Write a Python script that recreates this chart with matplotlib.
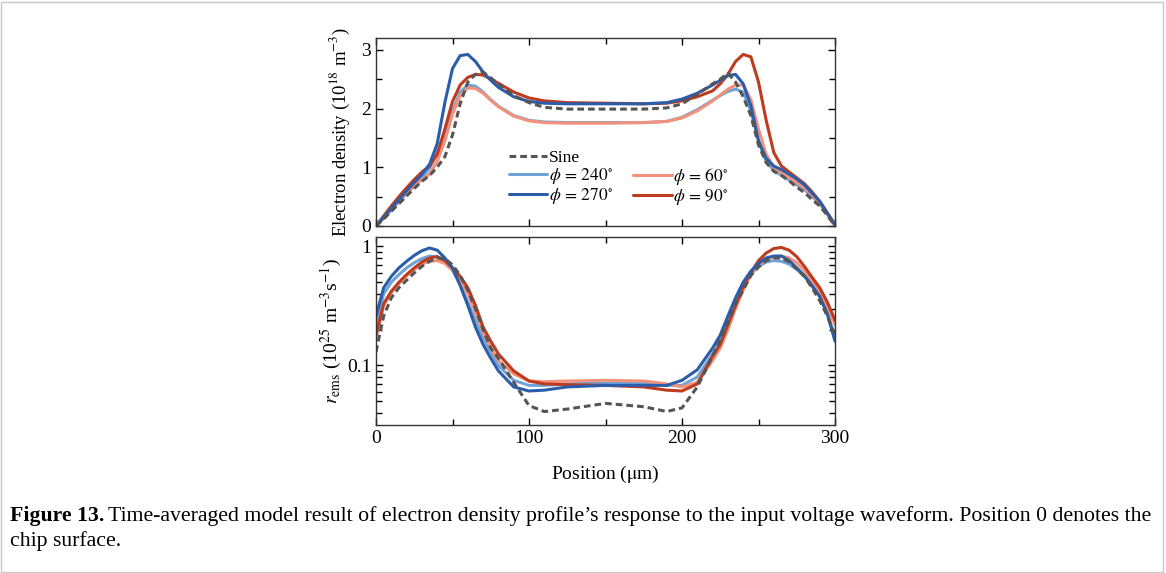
import numpy as np
import matplotlib.pyplot as plt
from matplotlib.patches import Rectangle
from matplotlib.ticker import MultipleLocator, LogLocator, NullFormatter, FixedLocator, FixedFormatter

plt.rcParams['font.family'] = ['Liberation Serif', 'DejaVu Serif']
plt.rcParams['mathtext.fontset'] = 'stix'

# posicoes (um)
pos = [0, 5, 10, 15, 20, 25, 30, 35, 40, 45, 50, 55, 60, 65, 70, 75, 80, 90, 100, 110, 125,
       150, 175, 190, 200, 210, 220, 225, 230, 235, 240, 245, 250, 255, 260, 265, 270, 275,
       280, 285, 290, 295, 300]

# densidade de eletrons (1e18 m^-3)
ne_sine = [0, 0.12, 0.25, 0.38, 0.51, 0.64, 0.76, 0.86, 1.00, 1.18, 1.55, 2.08, 2.45, 2.58, 2.62,
           2.52, 2.42, 2.22, 2.10, 2.02, 1.99, 1.99, 1.99, 2.01, 2.08, 2.24, 2.42, 2.50, 2.60,
           2.45, 2.20, 1.88, 1.38, 1.08, 0.93, 0.86, 0.77, 0.66, 0.57, 0.45, 0.34, 0.18, 0.0]
ne_240 = [0, 0.13, 0.27, 0.41, 0.55, 0.68, 0.82, 0.98, 1.25, 1.56, 1.95, 2.28, 2.40, 2.38, 2.28,
          2.15, 2.04, 1.88, 1.80, 1.77, 1.76, 1.76, 1.76, 1.78, 1.85, 1.98, 2.14, 2.22, 2.29,
          2.33, 2.28, 1.95, 1.45, 1.10, 0.95, 0.86, 0.78, 0.70, 0.62, 0.50, 0.38, 0.20, 0.01]
ne_270 = [0, 0.15, 0.30, 0.45, 0.60, 0.74, 0.88, 1.05, 1.40, 2.10, 2.68, 2.90, 2.92, 2.80, 2.62,
          2.48, 2.36, 2.20, 2.12, 2.09, 2.08, 2.08, 2.08, 2.10, 2.16, 2.26, 2.40, 2.48, 2.56,
          2.58, 2.42, 2.05, 1.45, 1.15, 1.02, 0.96, 0.88, 0.80, 0.70, 0.56, 0.42, 0.22, 0.02]
ne_60 = [0, 0.14, 0.29, 0.43, 0.56, 0.68, 0.79, 0.88, 1.10, 1.45, 1.90, 2.22, 2.35, 2.34, 2.26,
         2.14, 2.03, 1.87, 1.79, 1.76, 1.75, 1.75, 1.76, 1.78, 1.84, 1.96, 2.13, 2.23, 2.33,
         2.40, 2.40, 2.15, 1.65, 1.22, 1.00, 0.90, 0.82, 0.74, 0.65, 0.53, 0.39, 0.21, 0.01]
ne_90 = [0, 0.17, 0.34, 0.50, 0.65, 0.79, 0.92, 1.02, 1.22, 1.65, 2.12, 2.40, 2.53, 2.58, 2.57,
         2.50, 2.43, 2.28, 2.18, 2.13, 2.10, 2.09, 2.08, 2.09, 2.13, 2.20, 2.30, 2.42, 2.58,
         2.80, 2.92, 2.88, 2.45, 1.80, 1.25, 1.02, 0.92, 0.82, 0.72, 0.58, 0.42, 0.22, 0.02]

# taxa de emissao (1e25 m^-3 s^-1)
re_sine = [0.13, 0.26, 0.37, 0.45, 0.52, 0.60, 0.68, 0.75, 0.80, 0.79, 0.70, 0.57, 0.43, 0.30,
           0.20, 0.14, 0.115, 0.072, 0.046, 0.041, 0.043, 0.048, 0.045, 0.041, 0.044, 0.066,
           0.12, 0.165, 0.23, 0.33, 0.43, 0.57, 0.67, 0.76, 0.80, 0.80, 0.74, 0.65, 0.56, 0.45,
           0.35, 0.26, 0.18]
re_240 = [0.22, 0.40, 0.50, 0.58, 0.66, 0.73, 0.79, 0.83, 0.82, 0.75, 0.63, 0.48, 0.34, 0.24,
          0.17, 0.13, 0.10, 0.075, 0.068, 0.068, 0.070, 0.071, 0.071, 0.068, 0.068, 0.080,
          0.125, 0.16, 0.23, 0.33, 0.46, 0.58, 0.68, 0.74, 0.76, 0.75, 0.71, 0.64, 0.56, 0.46,
          0.38, 0.28, 0.17]
re_270 = [0.26, 0.45, 0.56, 0.66, 0.75, 0.84, 0.92, 0.97, 0.93, 0.80, 0.66, 0.47, 0.32, 0.21,
          0.15, 0.115, 0.09, 0.066, 0.061, 0.062, 0.066, 0.068, 0.068, 0.068, 0.075, 0.092,
          0.14, 0.18, 0.26, 0.37, 0.50, 0.62, 0.72, 0.80, 0.83, 0.83, 0.76, 0.66, 0.57, 0.47,
          0.38, 0.27, 0.16]
re_60 = [0.17, 0.32, 0.41, 0.49, 0.57, 0.64, 0.71, 0.75, 0.76, 0.72, 0.63, 0.52, 0.40, 0.28,
         0.19, 0.14, 0.11, 0.085, 0.074, 0.073, 0.074, 0.075, 0.074, 0.070, 0.066, 0.072,
         0.11, 0.14, 0.20, 0.30, 0.43, 0.58, 0.70, 0.78, 0.82, 0.83, 0.80, 0.73, 0.63, 0.52,
         0.42, 0.32, 0.22]
re_90 = [0.18, 0.33, 0.42, 0.50, 0.58, 0.66, 0.74, 0.80, 0.82, 0.76, 0.66, 0.56, 0.45, 0.32,
         0.21, 0.16, 0.125, 0.09, 0.074, 0.070, 0.069, 0.068, 0.066, 0.062, 0.061, 0.070,
         0.12, 0.15, 0.22, 0.32, 0.46, 0.60, 0.76, 0.88, 0.96, 0.98, 0.93, 0.82, 0.68, 0.55,
         0.45, 0.34, 0.24]

rotulos = ['Sine', r'$\phi\,=\,240^{\circ}$', r'$\phi\,=\,270^{\circ}$',
           r'$\phi\,=\,60^{\circ}$', r'$\phi\,=\,90^{\circ}$']
cores = ['#555555', '#6FA3D8', '#2A5DAA', '#F4917A', '#BF3B1F']

W, H = 1166, 573
fig = plt.figure(figsize=(W/100, H/100), dpi=100)
ax1 = fig.add_axes([376/W, 1-226/H, 459/W, 188/H])
ax2 = fig.add_axes([376/W, 1-425/H, 459/W, 188/H])

lw = 2.2
for ax, dados in ((ax1, [ne_sine, ne_240, ne_270, ne_60, ne_90]),
                  (ax2, [re_sine, re_240, re_270, re_60, re_90])):
    linhas = []
    for i in [1, 3, 4, 2, 0]:
        estilo = '--' if i == 0 else '-'
        l, = ax.plot(pos, dados[i], estilo, color=cores[i], lw=lw, label=rotulos[i],
                     solid_joinstyle='round', solid_capstyle='round',
                     dashes=(2.2, 1.3) if i == 0 else (None, None))
        linhas.append((i, l))
    ax.set_xlim(0, 300)
    ax.xaxis.set_major_locator(MultipleLocator(100))
    ax.xaxis.set_minor_locator(MultipleLocator(50))
    ax.tick_params(which='both', direction='in', top=True, right=True, labelsize=14)
    ax.tick_params(which='major', length=5, width=1)
    ax.tick_params(which='minor', length=4, width=1)
    for s in ax.spines.values():
        s.set_linewidth(1.0)
        s.set_color('#333333')
    if ax is ax1:
        ordem = dict(linhas)

# painel de cima
ax1.set_ylim(0, 3.2)
ax1.yaxis.set_major_locator(MultipleLocator(1))
ax1.yaxis.set_minor_locator(MultipleLocator(0.5))
ax1.tick_params(labelbottom=False)
ax1.set_ylabel(r'Electron density (10$^{18}$ m$^{-3}$)', fontsize=13.5, labelpad=7)
vazio = plt.Line2D([], [], color='none', label=' ')
hs = [ordem[0], ordem[1], ordem[2], vazio, ordem[3], ordem[4]]
ax1.legend(handles=hs, ncol=2, frameon=False, fontsize=12.5, loc='upper left',
           bbox_to_anchor=(0.27, 0.45), handlelength=2.2, handletextpad=0.1,
           columnspacing=1.2, labelspacing=0.0, borderpad=0)

# painel de baixo (log)
ax2.set_yscale('log')
ax2.set_ylim(0.0316, 1.2)
ax2.yaxis.set_major_locator(FixedLocator([0.1, 1]))
ax2.yaxis.set_major_formatter(FixedFormatter(['0.1', '1']))
ax2.yaxis.set_minor_locator(LogLocator(base=10, subs=np.arange(2, 10)))
ax2.yaxis.set_minor_formatter(NullFormatter())
ax2.set_ylabel(r'$r_{\rm ems}$ (10$^{25}$ m$^{-3}$s$^{-1}$)', fontsize=14, labelpad=2)
ax2.set_xlabel(r'Position ($\mathrm{\mu}$m)', fontsize=14, labelpad=12)

# moldura e legenda da figura
fig.patches.append(Rectangle((1/W, 1/H), (W-4)/W, (H-3)/H, transform=fig.transFigure,
                             fill=False, edgecolor='#c8c8c8', lw=1))
tam = 15.7
y1 = 1 - 521/H
y2 = 1 - 546/H
t1 = fig.text(10/W, y1, 'Figure 13.', fontsize=tam, fontweight='bold', va='baseline')
fig.canvas.draw()
bb = t1.get_window_extent(fig.canvas.get_renderer())
fig.text(bb.x1/W + 4/W, y1, 'Time-averaged model result of electron density profile\u2019s '
         'response to the input voltage waveform. Position 0 denotes the',
         fontsize=tam, va='baseline')
fig.text(10/W, y2, 'chip surface.', fontsize=tam, va='baseline')

fig.savefig('out.png', dpi=100)
